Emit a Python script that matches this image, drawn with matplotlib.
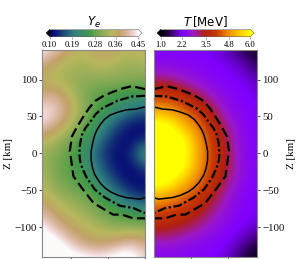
import numpy as np
import matplotlib
matplotlib.use("Agg")
import matplotlib.pyplot as plt
from matplotlib.colors import LinearSegmentedColormap

x_left = [-140, -120, -100, -80, -60, -40, -20, 0]
x_right = [0, 20, 40, 60, 80, 100, 120, 140]
z_rows = [140, 120, 100, 80, 60, 40, 20, 0, -20, -40, -60, -80, -100, -120, -140]

ye = [
    [.45, .42, .36, .35, .39, .37, .34, .37],
    [.40, .35, .33, .33, .35, .33, .32, .33],
    [.35, .33, .32, .31, .31, .31, .30, .30],
    [.39, .40, .34, .29, .27, .26, .25, .25],
    [.44, .43, .37, .30, .26, .23, .19, .17],
    [.44, .40, .34, .27, .22, .16, .12, .115],
    [.36, .33, .29, .25, .18, .125, .11, .13],
    [.32, .30, .27, .22, .145, .115, .13, .25],
    [.33, .29, .27, .24, .17, .12, .11, .15],
    [.34, .30, .28, .26, .21, .15, .115, .11],
    [.37, .33, .31, .29, .26, .21, .16, .14],
    [.41, .37, .34, .32, .29, .27, .25, .23],
    [.46, .41, .37, .35, .33, .31, .31, .31],
    [.47, .47, .42, .38, .37, .39, .42, .39],
    [.47, .47, .47, .46, .45, .47, .47, .43],
]
temp = [
    [2.25, 2.25, 2.2, 2.2, 2.1, 1.9, 1.5, 1.2],
    [2.4, 2.4, 2.35, 2.3, 2.25, 2.15, 1.95, 1.55],
    [3.2, 3.1, 2.8, 2.5, 2.3, 2.25, 2.15, 1.9],
    [4.0, 4.0, 3.7, 3.2, 2.7, 2.3, 2.25, 2.1],
    [5.0, 4.8, 4.4, 3.9, 3.3, 2.5, 2.3, 2.2],
    [6.3, 6.1, 5.2, 4.5, 3.7, 2.9, 2.35, 2.2],
    [6.5, 6.5, 6.1, 4.9, 4.0, 3.2, 2.4, 2.25],
    [6.5, 6.5, 6.3, 5.0, 4.1, 3.3, 2.4, 2.25],
    [6.5, 6.5, 6.1, 4.9, 4.0, 3.3, 2.5, 2.25],
    [6.3, 6.1, 5.2, 4.5, 3.8, 3.0, 2.4, 2.2],
    [5.0, 4.8, 4.4, 4.0, 3.4, 2.7, 2.3, 2.2],
    [4.2, 4.1, 3.9, 3.5, 3.0, 2.5, 2.25, 2.15],
    [3.6, 3.5, 3.3, 3.0, 2.6, 2.3, 2.15, 2.0],
    [2.8, 2.8, 2.6, 2.4, 2.3, 2.2, 1.9, 1.5],
    [2.3, 2.3, 2.3, 2.25, 2.2, 2.0, 1.5, 1.0],
]

solid_x = [0, -12, -25, -36, -47, -55, -61, -65, -68, -71, -73, -73, -71, -68, -61, -54, -47, -36, -25, -7, 0]
solid_z = [63, 60, 59, 56, 52, 46, 38.5, 32, 25, 14, 2.5, -9, -20, -29, -40, -47, -52, -57, -60, -62, -60]
dashdot_x = [0, -18, -38, -48, -58, -67, -74, -81, -85.5, -88, -89, -88, -85, -79, -68, -54, -34, -16, 0]
dashdot_z = [78, 77, 71, 66, 61, 53, 43, 34, 25, 13, 0, -10, -20, -33, -49, -60, -71, -74, -81]
dashed_x = [0, -18, -30, -43, -56, -67.5, -76, -84, -92, -99, -102, -101, -97, -85.5, -70, -58.5, -43, -31, -16, 0]
dashed_z = [87, 91, 88, 83.5, 78, 71, 61, 49, 36, 23, 2.5, -2, -31, -47, -67, -74, -83, -83, -88, -88]

ye_ticks = [0.10, 0.19, 0.28, 0.36, 0.45]
ye_ticklabels = ["0.10", "0.19", "0.28", "0.36", "0.45"]
t_ticks = [1.0, 2.2, 3.5, 4.8, 6.0]
t_ticklabels = ["1.0", "2.2", "3.5", "4.8", "6.0"]
z_ticks = [100, 50, 0, -50, -100]
x_ticks_left = [-100, -50, 0]
x_ticks_right = [50, 100]

W, H = 299, 259
fig = plt.figure(figsize=(W / 100, H / 100), dpi=100)
SERIF = ["Liberation Serif", "DejaVu Serif"]
plt.rcParams["mathtext.fontset"] = "dejavusans"


def box(l, r, t, b):
    return [l / W, 1 - b / H, (r - l) / W, (b - t) / H]


t_cmap = LinearSegmentedColormap.from_list("temp", [
    (0.0, "#000000"), (0.10, "#2a0050"), (0.24, "#8000ff"), (0.36, "#9a18c8"),
    (0.50, "#b02010"), (0.62, "#c83800"), (0.76, "#f09000"), (0.90, "#ffd000"), (1.0, "#ffff00")])
e_cmap = plt.get_cmap("gist_earth")

axL = fig.add_axes(box(41.7, 145, 50, 256.7))
axR = fig.add_axes(box(153.5, 257.3, 50, 256.7))
dx = 10
imL = axL.imshow(ye, cmap=e_cmap, vmin=0.10, vmax=0.45, interpolation="bicubic", aspect="auto",
                 extent=[x_left[0] - dx, x_left[-1] + dx, z_rows[-1] - dx, z_rows[0] + dx])
imR = axR.imshow(temp, cmap=t_cmap, vmin=1.0, vmax=6.0, interpolation="bicubic", aspect="auto",
                 extent=[x_right[0] - dx, x_right[-1] + dx, z_rows[-1] - dx, z_rows[0] + dx])

for ax, sign in ((axL, 1), (axR, -1)):
    ax.plot(sign * np.array(solid_x), solid_z, color="k", lw=1.1, ls="-")
    ax.plot(sign * np.array(dashdot_x), dashdot_z, color="k", lw=1.6, ls=(0, (4, 1.2, 1, 1.2)))
    ax.plot(sign * np.array(dashed_x), dashed_z, color="k", lw=1.6, ls=(0, (4.5, 2)))
    ax.set_ylim(-140, 140)
    ax.set_yticks(z_ticks)
    ax.set_yticklabels([str(v).replace("-", "\u2212") for v in z_ticks], family=SERIF, fontsize=7.8)
    ax.tick_params(length=2, width=0.6, pad=1.5, color="#333333", labelcolor="#111111")
    ax.set_ylabel("Z [km]", family=SERIF, fontsize=7.8, labelpad=1)
    for s in ax.spines.values():
        s.set_color("#888888")
        s.set_linewidth(0.8)

axL.set_xlim(-140, 0)
axL.set_xticks(x_ticks_left)
axL.set_xticklabels([])
axR.set_xlim(0, 140)
axR.set_xticks(x_ticks_right)
axR.set_xticklabels([])
axR.yaxis.tick_right()
axR.yaxis.set_label_position("right")
axR.set_ylabel("Z [km]", family=SERIF, fontsize=7.8, labelpad=2, rotation=90)

caxL = fig.add_axes(box(46, 142, 29.5, 36.5))
caxR = fig.add_axes(box(157, 254, 29.5, 36.5))
for cax, im, ticks, labels, title in (
    (caxL, imL, ye_ticks, ye_ticklabels, r"$Y_e$"),
    (caxR, imR, t_ticks, t_ticklabels, r"$T\,$[MeV]"),
):
    cb = fig.colorbar(im, cax=cax, orientation="horizontal", extend="both", extendfrac=0.04, ticks=ticks)
    cb.set_ticklabels(labels, family=SERIF, fontsize=6.2)
    cb.ax.tick_params(length=1.5, width=0.4, pad=1.5, color="#555555")
    cb.ax.minorticks_off()
    cb.outline.set_linewidth(0.4)
    cb.outline.set_edgecolor("#666666")
    cb.ax.set_title(title, fontsize=8.5, pad=1.5)

fig.savefig("out.png", dpi=100)
